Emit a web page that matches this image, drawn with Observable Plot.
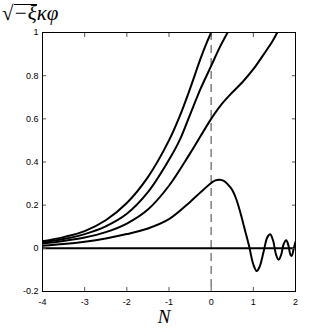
<!DOCTYPE html>
<html>
<head>
<meta charset="utf-8">
<script src="https://cdn.jsdelivr.net/npm/d3@7"></script>
<script src="https://cdn.jsdelivr.net/npm/@observablehq/plot@0.6"></script>
<style>
  html, body { margin: 0; padding: 0; background: #fff; }
  #wrap { position: relative; width: 327px; height: 328px; overflow: hidden; }
  #ylab { position: absolute; left: 2px; top: 2px; font-family: "Liberation Serif", "DejaVu Serif", serif; font-size: 21px; font-style: italic; line-height: 22px; white-space: nowrap; }
  #ylab .rad { font-style: normal; font-size: 21px; }
  #ylab .ov { display: inline-block; line-height: 16px; border-top: 1.5px solid #000; }
</style>
</head>
<body>
<div id="wrap">
  <div id="chart"></div>
  <div id="ylab"><span class="rad">√</span><span class="ov">−ξ</span>κφ</div>
</div>
<script>
// Curve A (leftmost, reaches 1 at N = 0)
const nA = [-4, -3.5, -3, -2.5, -2, -1.5, -1, -0.75, -0.5, -0.25, -0.1, 0];
const vA = [0.033, 0.052, 0.08, 0.13, 0.21, 0.33, 0.5, 0.61, 0.74, 0.88, 0.955, 1.0];
// Curve B
const nB = [-4, -3.5, -3, -2.5, -2, -1.5, -1, -0.75, -0.5, -0.25, 0, 0.2, 0.39];
const vB = [0.028, 0.043, 0.066, 0.102, 0.16, 0.26, 0.41, 0.5, 0.62, 0.74, 0.845, 0.93, 1.0];
// Curve C
const nC = [-4, -3.5, -3, -2.5, -2, -1.5, -1, -0.5, 0, 0.25, 0.5, 0.75, 1.0, 1.25, 1.45, 1.566];
const vC = [0.022, 0.034, 0.05, 0.075, 0.115, 0.18, 0.29, 0.44, 0.6, 0.668, 0.722, 0.772, 0.83, 0.9, 0.958, 1.0];
// Curve D (peaks then oscillates)
const nD = [-4, -3.5, -3, -2.5, -2, -1.5, -1, -0.5, -0.25, 0, 0.1, 0.2, 0.3, 0.4, 0.5, 0.6, 0.7, 0.8, 0.9, 1.0, 1.08, 1.15, 1.25, 1.33, 1.4, 1.47, 1.54, 1.6, 1.66, 1.72, 1.78, 1.83, 1.88, 1.91, 1.96, 2.0];
const vD = [0.012, 0.02, 0.031, 0.046, 0.066, 0.092, 0.135, 0.215, 0.26, 0.303, 0.315, 0.318, 0.312, 0.295, 0.27, 0.225, 0.16, 0.085, 0.01, -0.075, -0.105, -0.085, -0.01, 0.05, 0.065, 0.035, -0.03, -0.053, -0.03, 0.02, 0.038, 0.015, -0.03, -0.035, 0.0, 0.03];

const xTicks = [-4, -3, -2, -1, 0, 1, 2];
const xTickLabels = ["-4", "-3", "-2", "-1", "0", "1", "2"];
const yTicks = [-0.2, 0, 0.2, 0.4, 0.6, 0.8, 1];
const yTickLabels = ["-0.2", "0", "0.2", "0.4", "0.6", "0.8", "1"];
const xLabel = "N";

const series = [
  {id: "A", n: nA, v: vA},
  {id: "B", n: nB, v: vB},
  {id: "C", n: nC, v: vC},
  {id: "D", n: nD, v: vD}
];
const rows = series.flatMap(s => s.n.map((n, i) => ({id: s.id, n, v: s.v[i]})));

const xfmt = d => xTickLabels[xTicks.indexOf(d)];
const yfmt = d => { const i = yTicks.findIndex(t => Math.abs(t - d) < 1e-9); return i >= 0 ? yTickLabels[i] : ""; };

const chart = Plot.plot({
  width: 327,
  height: 328,
  marginLeft: 42,
  marginRight: 32,
  marginTop: 32,
  marginBottom: 37,
  style: {fontFamily: "'Liberation Sans', Arial, sans-serif", fontSize: "9px", background: "#fff", color: "#000"},
  x: {domain: [-4, 2], ticks: xTicks},
  y: {domain: [-0.2, 1], ticks: yTicks},
  marks: [
    Plot.ruleX([0], {stroke: "#7f7f7f", strokeWidth: 1.5, strokeDasharray: "8,5"}),
    Plot.ruleY([0], {stroke: "#000", strokeWidth: 2}),
    Plot.line(rows, {x: "n", y: "v", z: "id", stroke: "#000", strokeWidth: 2, curve: "catmull-rom", clip: true}),
    Plot.axisX(xTicks, {anchor: "bottom", tickSize: -4, tickPadding: 11, tickFormat: xfmt, label: null, stroke: "#555"}),
    Plot.axisX(xTicks, {anchor: "top", tickSize: -4, tickFormat: () => "", label: null, stroke: "#555"}),
    Plot.axisY(yTicks, {anchor: "left", tickSize: -4, tickPadding: 8, tickFormat: yfmt, label: null, stroke: "#555"}),
    Plot.axisY(yTicks, {anchor: "right", tickSize: -4, tickFormat: () => "", label: null, stroke: "#555"}),
    Plot.frame({stroke: "#000", strokeWidth: 1}),
    Plot.text([xLabel], {frameAnchor: "bottom", dx: -5, dy: 25, fontSize: 19, fontFamily: "'Liberation Serif', serif", fontStyle: "italic", fill: "#000", lineAnchor: "middle"})
  ]
});
document.getElementById("chart").appendChild(chart);
</script>
</body>
</html>
